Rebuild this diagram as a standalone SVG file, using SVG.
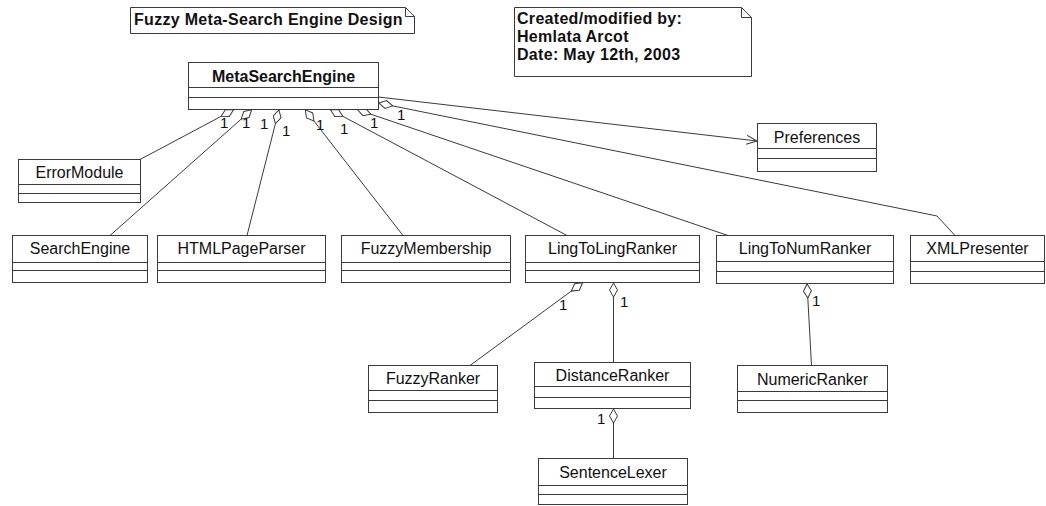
<svg xmlns="http://www.w3.org/2000/svg" width="1046" height="506" viewBox="0 0 1046 506">
  <style>
    .box { fill: #ffffff; stroke: #3a3a3a; stroke-width: 1; }
    .div { stroke: #3a3a3a; stroke-width: 1; }
    .name { font-family: "Liberation Sans", Arial, sans-serif; font-size: 16px; fill: #111; text-anchor: middle; }
    .bold { font-weight: bold; }
    .note { font-family: "Liberation Sans", Arial, sans-serif; font-size: 16px; font-weight: bold; fill: #111; letter-spacing: 0.3px; }
    .mult { font-family: "Liberation Sans", Arial, sans-serif; font-size: 15px; fill: #111; }
    .link { fill: none; stroke: #3a3a3a; stroke-width: 1; }
    .agg { marker-start: url(#diamond); }
  </style>
  <defs>
    <!-- hollow aggregation diamond, tip sits on the owning class -->
    <marker id="diamond" viewBox="0 0 15 9" refX="0" refY="4.5" markerWidth="15" markerHeight="9" markerUnits="userSpaceOnUse" orient="auto">
      <path d="M0.5,4.5 L7.5,0.5 L14.5,4.5 L7.5,8.5 Z" fill="#ffffff" stroke="#3a3a3a" stroke-width="1"/>
    </marker>
    <!-- open navigability arrow -->
    <marker id="open" viewBox="0 0 11 10" refX="10.5" refY="5" markerWidth="11" markerHeight="10" markerUnits="userSpaceOnUse" orient="auto">
      <path d="M0,0.5 L10.5,5 L0,9.5" fill="none" stroke="#3a3a3a" stroke-width="1"/>
    </marker>
  </defs>
  <rect width="1046" height="506" fill="#ffffff"/>

  <!-- notes -->
  <g id="note-title">
    <path class="box" d="M130.5,7.5 H405.5 L414.5,16.5 V33.5 H130.5 Z"/>
    <path class="link" d="M405.5,7.5 V16.5 H414.5"/>
    <text class="note" x="134" y="25">Fuzzy Meta-Search Engine Design</text>
  </g>
  <g id="note-author">
    <path class="box" d="M514.5,7.5 H741.5 L751.5,17.5 V76.5 H514.5 Z"/>
    <path class="link" d="M741.5,7.5 V17.5 H751.5"/>
    <text class="note" x="517" y="24">Created/modified by:</text>
    <text class="note" x="517" y="42">Hemlata Arcot</text>
    <text class="note" x="517" y="60">Date: May 12th, 2003</text>
  </g>

  <!-- connectors -->
  <g id="connectors">
    <line class="link agg" x1="234" y1="109.5" x2="140" y2="159.5"/>
    <line class="link agg" x1="252" y1="109.5" x2="110" y2="235.5"/>
    <line class="link agg" x1="279" y1="109.5" x2="247" y2="235.5"/>
    <line class="link agg" x1="305" y1="109.5" x2="403" y2="235.5"/>
    <line class="link agg" x1="330" y1="109.5" x2="567" y2="235.5"/>
    <line class="link agg" x1="357" y1="109.5" x2="728" y2="235.5"/>
    <polyline class="link agg" points="378.5,103 937,216 955,235.5"/>
    <line class="link" x1="378.5" y1="97" x2="757" y2="141" marker-end="url(#open)"/>

    <line class="link agg" x1="583" y1="282.5" x2="470" y2="365.5"/>
    <line class="link agg" x1="613.5" y1="282.5" x2="613.5" y2="362.5"/>
    <line class="link agg" x1="613.5" y1="408.5" x2="613.5" y2="458.5"/>
    <line class="link agg" x1="807" y1="283.5" x2="811.5" y2="365.5"/>

    <text class="mult" x="220" y="128">1</text>
    <text class="mult" x="242" y="128">1</text>
    <text class="mult" x="260" y="129">1</text>
    <text class="mult" x="282" y="136">1</text>
    <text class="mult" x="316" y="130">1</text>
    <text class="mult" x="340" y="134">1</text>
    <text class="mult" x="370" y="128">1</text>
    <text class="mult" x="397" y="120">1</text>
    <text class="mult" x="559" y="310">1</text>
    <text class="mult" x="620" y="307">1</text>
    <text class="mult" x="597" y="424">1</text>
    <text class="mult" x="812" y="306">1</text>
  </g>

  <!-- classes -->
  <g id="MetaSearchEngine">
    <rect class="box" x="188.5" y="62.5" width="190" height="47"/>
    <line class="div" x1="188.5" y1="87.5" x2="378.5" y2="87.5"/>
    <line class="div" x1="188.5" y1="97.5" x2="378.5" y2="97.5"/>
    <text class="name bold" x="283.5" y="82">MetaSearchEngine</text>
  </g>
  <g id="Preferences">
    <rect class="box" x="757.5" y="123.5" width="119" height="48"/>
    <line class="div" x1="757.5" y1="148.5" x2="876.5" y2="148.5"/>
    <line class="div" x1="757.5" y1="158.5" x2="876.5" y2="158.5"/>
    <text class="name" x="817" y="143">Preferences</text>
  </g>
  <g id="ErrorModule">
    <rect class="box" x="18.5" y="159.5" width="122" height="43"/>
    <line class="div" x1="18.5" y1="184.5" x2="140.5" y2="184.5"/>
    <line class="div" x1="18.5" y1="193.5" x2="140.5" y2="193.5"/>
    <text class="name" x="79.5" y="178">ErrorModule</text>
  </g>
  <g id="SearchEngine">
    <rect class="box" x="12.5" y="235.5" width="135" height="47"/>
    <line class="div" x1="12.5" y1="262.5" x2="147.5" y2="262.5"/>
    <line class="div" x1="12.5" y1="270.5" x2="147.5" y2="270.5"/>
    <text class="name" x="80" y="254">SearchEngine</text>
  </g>
  <g id="HTMLPageParser">
    <rect class="box" x="157.5" y="235.5" width="168" height="47"/>
    <line class="div" x1="157.5" y1="262.5" x2="325.5" y2="262.5"/>
    <line class="div" x1="157.5" y1="270.5" x2="325.5" y2="270.5"/>
    <text class="name" x="241.5" y="254">HTMLPageParser</text>
  </g>
  <g id="FuzzyMembership">
    <rect class="box" x="341.5" y="235.5" width="169" height="47"/>
    <line class="div" x1="341.5" y1="262.5" x2="510.5" y2="262.5"/>
    <line class="div" x1="341.5" y1="270.5" x2="510.5" y2="270.5"/>
    <text class="name" x="426" y="254">FuzzyMembership</text>
  </g>
  <g id="LingToLingRanker">
    <rect class="box" x="525.5" y="235.5" width="174" height="47"/>
    <line class="div" x1="525.5" y1="262.5" x2="699.5" y2="262.5"/>
    <line class="div" x1="525.5" y1="270.5" x2="699.5" y2="270.5"/>
    <text class="name" x="612.5" y="254">LingToLingRanker</text>
  </g>
  <g id="LingToNumRanker">
    <rect class="box" x="716.5" y="235.5" width="177" height="48"/>
    <line class="div" x1="716.5" y1="261.5" x2="893.5" y2="261.5"/>
    <line class="div" x1="716.5" y1="271.5" x2="893.5" y2="271.5"/>
    <text class="name" x="805" y="254">LingToNumRanker</text>
  </g>
  <g id="XMLPresenter">
    <rect class="box" x="910.5" y="235.5" width="134" height="48"/>
    <line class="div" x1="910.5" y1="261.5" x2="1044.5" y2="261.5"/>
    <line class="div" x1="910.5" y1="271.5" x2="1044.5" y2="271.5"/>
    <text class="name" x="977.5" y="254">XMLPresenter</text>
  </g>
  <g id="FuzzyRanker">
    <rect class="box" x="368.5" y="365.5" width="129" height="47"/>
    <line class="div" x1="368.5" y1="390.5" x2="497.5" y2="390.5"/>
    <line class="div" x1="368.5" y1="400.5" x2="497.5" y2="400.5"/>
    <text class="name" x="433" y="384">FuzzyRanker</text>
  </g>
  <g id="DistanceRanker">
    <rect class="box" x="534.5" y="362.5" width="156" height="46"/>
    <line class="div" x1="534.5" y1="386.5" x2="690.5" y2="386.5"/>
    <line class="div" x1="534.5" y1="397.5" x2="690.5" y2="397.5"/>
    <text class="name" x="612.5" y="381">DistanceRanker</text>
  </g>
  <g id="NumericRanker">
    <rect class="box" x="737.5" y="365.5" width="150" height="47"/>
    <line class="div" x1="737.5" y1="391.5" x2="887.5" y2="391.5"/>
    <line class="div" x1="737.5" y1="400.5" x2="887.5" y2="400.5"/>
    <text class="name" x="812.5" y="385">NumericRanker</text>
  </g>
  <g id="SentenceLexer">
    <rect class="box" x="538.5" y="458.5" width="149" height="46"/>
    <line class="div" x1="538.5" y1="485.5" x2="687.5" y2="485.5"/>
    <line class="div" x1="538.5" y1="494.5" x2="687.5" y2="494.5"/>
    <text class="name" x="613" y="478">SentenceLexer</text>
  </g>
</svg>
